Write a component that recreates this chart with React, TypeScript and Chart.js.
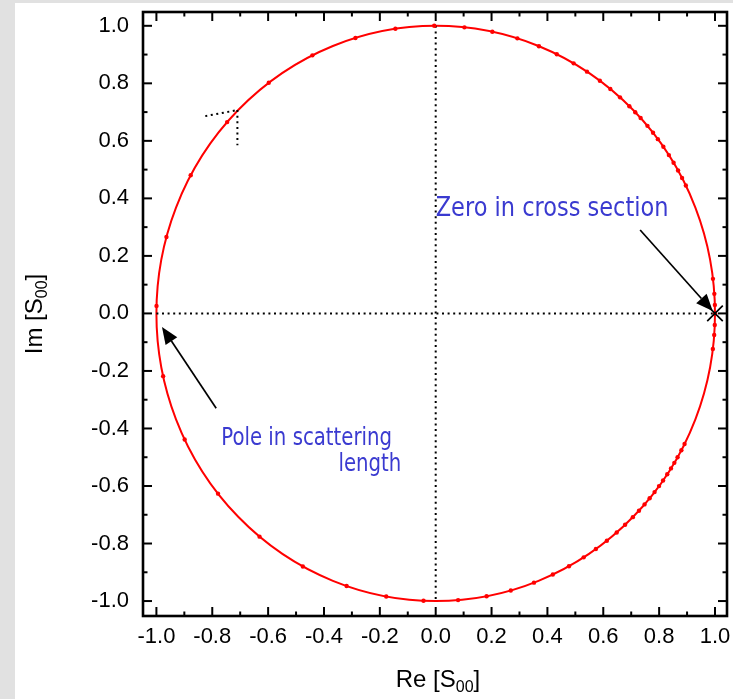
import React, { useEffect, useRef } from "react";
import { Chart, registerables } from "chart.js";

Chart.register(...registerables);

// Phase of S00 = exp(i*phi) at each marked point (degrees)
const phaseDeg = [
  0, 1.7, 3.9, 6.9, 26.4, 28.1, 29.8, 31.6, 33.4, 35.4, 37.3, 38.9, 40.7, 42.8,
  44.4, 46.1, 48.7, 51.3, 54.0, 57.2, 60.4, 64.3, 68.3, 73.0, 78.3, 84.1, 90.3,
  98.3, 106.7, 116.2, 126.7, 138.3, 151.3, 164.6, 178.5, 192.6, 206.0, 218.8,
  230.9, 241.6, 251.4, 259.8, 267.5, 274.6, 280.5, 285.6, 290.6, 294.8, 298.5,
  302.0, 305.0, 307.8, 310.4, 312.7, 314.9, 316.7, 318.4, 320.0, 321.6, 323.1,
  324.5, 326.0, 327.4, 328.7, 330.0, 331.6, 333.0, 352.9, 355.7, 357.7, 360,
];

// Unitarity circle |S00| = 1 (the red curve)
const unitarityRadius = 1.0;

// Zero in cross section marker
const zeroPointRe = [1.0];
const zeroPointIm = [0.0];

// Dotted reference lines
const hAxisRe = [-1.0, 1.0];
const hAxisIm = [0.0, 0.0];
const vAxisRe = [0.0, 0.0];
const vAxisIm = [1.0, -1.0];
const markHRe = [-0.825, -0.71];
const markHIm = [0.686, 0.707];
const markVRe = [-0.71, -0.71];
const markVIm = [0.707, 0.585];

// Tick values
const xMajorTicks = [-1.0, -0.8, -0.6, -0.4, -0.2, 0.0, 0.2, 0.4, 0.6, 0.8, 1.0];
const yMajorTicks = [-1.0, -0.8, -0.6, -0.4, -0.2, 0.0, 0.2, 0.4, 0.6, 0.8, 1.0];
const minorTicks = [-0.9, -0.7, -0.5, -0.3, -0.1, 0.1, 0.3, 0.5, 0.7, 0.9];

// Labels
const xTitle = { main: "Re [S", sub: "00", tail: "]" };
const yTitle = { main: "Im [S", sub: "00", tail: "]" };
const zeroLabel = "Zero in cross section";
const poleLabel1 = "Pole in scattering";
const poleLabel2 = "length";

const circlePoints = phaseDeg.map((d) => ({
  x: Math.cos((d * Math.PI) / 180),
  y: Math.sin((d * Math.PI) / 180),
}));
const pairs = (xs: number[], ys: number[]) => xs.map((x, i) => ({ x, y: ys[i] }));

const CANVAS_W = 718;
const CANVAS_H = 696;
const AREA = { left: 128, top: 9, right: 712, bottom: 613 };

const TICK_FONT = "'Liberation Sans', Arial, sans-serif";
const NOTE_FONT = "'DejaVu Sans', sans-serif";
const NOTE_COLOR = "#3a3ad0";
const NOTE_STRETCH = 1.22;

function fitSize(ctx: CanvasRenderingContext2D, text: string, family: string, width: number) {
  ctx.font = `100px ${family}`;
  const w = ctx.measureText(text).width;
  return (100 * width) / w;
}

function noteText(ctx: CanvasRenderingContext2D, text: string, x: number, y: number) {
  ctx.save();
  ctx.translate(x, y);
  ctx.scale(1, NOTE_STRETCH);
  ctx.fillText(text, 0, 0);
  ctx.restore();
}

function drawArrow(ctx: CanvasRenderingContext2D, x0: number, y0: number, x1: number, y1: number) {
  const ang = Math.atan2(y1 - y0, x1 - x0);
  const L = 17;
  const W = 7;
  const bx = x1 - L * Math.cos(ang);
  const by = y1 - L * Math.sin(ang);
  ctx.beginPath();
  ctx.moveTo(x0, y0);
  ctx.lineTo(bx, by);
  ctx.lineWidth = 1.7;
  ctx.strokeStyle = "#000";
  ctx.stroke();
  ctx.beginPath();
  ctx.moveTo(x1, y1);
  ctx.lineTo(bx + W * Math.sin(ang), by - W * Math.cos(ang));
  ctx.lineTo(bx - W * Math.sin(ang), by + W * Math.cos(ang));
  ctx.closePath();
  ctx.fillStyle = "#000";
  ctx.fill();
}

function drawSubText(
  ctx: CanvasRenderingContext2D,
  t: { main: string; sub: string; tail: string },
  cx: number,
  baseY: number
) {
  const big = `24px ${TICK_FONT}`;
  const small = `16px ${TICK_FONT}`;
  ctx.font = big;
  const w1 = ctx.measureText(t.main).width;
  const w3 = ctx.measureText(t.tail).width;
  ctx.font = small;
  const w2 = ctx.measureText(t.sub).width;
  let x = cx - (w1 + w2 + w3) / 2;
  ctx.textBaseline = "alphabetic";
  ctx.textAlign = "left";
  ctx.fillStyle = "#000";
  ctx.font = big;
  ctx.fillText(t.main, x, baseY);
  x += w1;
  ctx.font = small;
  ctx.fillText(t.sub, x, baseY + 5);
  x += w2;
  ctx.font = big;
  ctx.fillText(t.tail, x, baseY);
}

// pin the plot area to the same place as in the reference
const fixLayoutPlugin = {
  id: "fixLayout",
  afterLayout(chart: any) {
    const xs = chart.scales.x;
    const ys = chart.scales.y;
    xs.left = AREA.left;
    xs.right = AREA.right;
    xs.width = AREA.right - AREA.left;
    xs.top = AREA.bottom;
    xs.bottom = CANVAS_H;
    xs.height = CANVAS_H - AREA.bottom;
    ys.left = 0;
    ys.right = AREA.left;
    ys.width = AREA.left;
    ys.top = AREA.top;
    ys.bottom = AREA.bottom;
    ys.height = AREA.bottom - AREA.top;
    xs.configure();
    ys.configure();
    xs._labelItems = null;
    ys._labelItems = null;
    chart.chartArea = {
      left: AREA.left,
      top: AREA.top,
      right: AREA.right,
      bottom: AREA.bottom,
      width: AREA.right - AREA.left,
      height: AREA.bottom - AREA.top,
    };
  },
};

const circlePlugin = {
  id: "unitarity",
  beforeDatasetsDraw(chart: any) {
    const { ctx, scales } = chart;
    const xs = scales.x;
    const ys = scales.y;
    const cx = xs.getPixelForValue(0);
    const cy = ys.getPixelForValue(0);
    const rx = xs.getPixelForValue(unitarityRadius) - cx;
    const ry = cy - ys.getPixelForValue(unitarityRadius);
    ctx.save();
    ctx.beginPath();
    ctx.ellipse(cx, cy, rx, ry, 0, 0, Math.PI * 2);
    ctx.strokeStyle = "#ff0000";
    ctx.lineWidth = 2;
    ctx.stroke();
    ctx.restore();
  },
};

const decorPlugin = {
  id: "decor",
  afterDatasetsDraw(chart: any) {
    const { ctx, chartArea: a, scales } = chart;
    const xs = scales.x;
    const ys = scales.y;
    ctx.save();

    // annotations
    const zs = fitSize(ctx, zeroLabel, NOTE_FONT, 233);
    ctx.font = `${zs}px ${NOTE_FONT}`;
    ctx.fillStyle = NOTE_COLOR;
    ctx.textAlign = "left";
    ctx.textBaseline = "alphabetic";
    noteText(ctx, zeroLabel, xs.getPixelForValue(0.0), ys.getPixelForValue(0.338));

    const ps = fitSize(ctx, poleLabel1, NOTE_FONT, 171);
    ctx.font = `${ps}px ${NOTE_FONT}`;
    ctx.fillStyle = NOTE_COLOR;
    ctx.textAlign = "left";
    noteText(ctx, poleLabel1, xs.getPixelForValue(-0.768), ys.getPixelForValue(-0.458));
    ctx.textAlign = "right";
    noteText(ctx, poleLabel2, xs.getPixelForValue(-0.123), ys.getPixelForValue(-0.547));

    drawArrow(
      ctx,
      xs.getPixelForValue(0.732),
      ys.getPixelForValue(0.29),
      xs.getPixelForValue(0.992),
      ys.getPixelForValue(0.008)
    );
    drawArrow(
      ctx,
      xs.getPixelForValue(-0.786),
      ys.getPixelForValue(-0.33),
      xs.getPixelForValue(-0.98),
      ys.getPixelForValue(-0.047)
    );

    // ticks (inward, on all four sides)
    ctx.strokeStyle = "#000";
    ctx.lineWidth = 2;
    const seg = (x0: number, y0: number, x1: number, y1: number) => {
      ctx.beginPath();
      ctx.moveTo(x0, y0);
      ctx.lineTo(x1, y1);
      ctx.stroke();
    };
    const MAJ = 9;
    const MIN = 4.5;
    xMajorTicks.forEach((v) => {
      const p = xs.getPixelForValue(v);
      seg(p, a.bottom, p, a.bottom - MAJ);
      seg(p, a.top, p, a.top + MAJ);
    });
    minorTicks.forEach((v) => {
      const p = xs.getPixelForValue(v);
      seg(p, a.bottom, p, a.bottom - MIN);
      seg(p, a.top, p, a.top + MIN);
    });
    yMajorTicks.forEach((v) => {
      const p = ys.getPixelForValue(v);
      seg(a.left, p, a.left + MAJ, p);
      seg(a.right, p, a.right - MAJ, p);
    });
    minorTicks.forEach((v) => {
      const p = ys.getPixelForValue(v);
      seg(a.left, p, a.left + MIN, p);
      seg(a.right, p, a.right - MIN, p);
    });

    // frame
    ctx.lineWidth = 2.6;
    ctx.strokeRect(a.left, a.top, a.right - a.left, a.bottom - a.top);

    // axis titles
    drawSubText(ctx, xTitle, (a.left + a.right) / 2 + 3, 684);
    ctx.save();
    ctx.translate(27, (a.top + a.bottom) / 2);
    ctx.rotate(-Math.PI / 2);
    drawSubText(ctx, yTitle, 0, 0);
    ctx.restore();

    ctx.restore();
  },
};

export default function App() {
  const ref = useRef<HTMLCanvasElement>(null);

  useEffect(() => {
    if (!ref.current) return;
    const dotted = {
      showLine: true,
      borderColor: "#000",
      borderWidth: 2,
      borderDash: [2, 3.6],
      pointRadius: 0,
      fill: false,
      tension: 0,
    };
    const chart = new Chart(ref.current, {
      type: "scatter",
      data: {
        datasets: [
          {
            data: pairs(zeroPointRe, zeroPointIm),
            pointStyle: "crossRot",
            pointRadius: 11,
            borderColor: "#000",
            borderWidth: 1.7,
            showLine: false,
          } as any,
          {
            data: circlePoints,
            showLine: false,
            borderColor: "#ff0000",
            backgroundColor: "#ff0000",
            pointRadius: 2.2,
            pointBorderWidth: 0,
          },
          { data: pairs(hAxisRe, hAxisIm), ...dotted },
          { data: pairs(vAxisRe, vAxisIm), ...dotted },
          { data: pairs(markHRe, markHIm), ...dotted },
          { data: pairs(markVRe, markVIm), ...dotted },
        ],
      },
      options: {
        animation: false,
        responsive: false,
        maintainAspectRatio: false,
        layout: { padding: { top: 9, right: 6, left: 0, bottom: 0 } },
        plugins: { legend: { display: false }, tooltip: { enabled: false } },
        scales: {
          x: {
            type: "linear",
            min: -1.048,
            max: 1.043,
            grid: { display: false, drawTicks: false },
            border: { display: false },
            afterBuildTicks: (s: any) => {
              s.ticks = xMajorTicks.map((v) => ({ value: v }));
            },
            ticks: {
              padding: 8,
              autoSkip: false,
              maxRotation: 0,
              color: "#000",
              font: { family: TICK_FONT, size: 22 },
              callback: (v: any) => Number(v).toFixed(1),
            },
          },
          y: {
            type: "linear",
            min: -1.052,
            max: 1.048,
            grid: { display: false, drawTicks: false },
            border: { display: false },
            afterBuildTicks: (s: any) => {
              s.ticks = yMajorTicks.map((v) => ({ value: v }));
            },
            ticks: {
              padding: 14,
              autoSkip: false,
              color: "#000",
              font: { family: TICK_FONT, size: 22 },
              callback: (v: any) => Number(v).toFixed(1),
            },
          },
        },
      },
      plugins: [fixLayoutPlugin, circlePlugin, decorPlugin],
    });
    return () => chart.destroy();
  }, []);

  return (
    <div
      style={{
        position: "fixed",
        left: 0,
        top: 0,
        width: 733,
        height: 699,
        background: "#e1e1e1",
      }}
    >
      <div
        style={{
          position: "absolute",
          left: 15,
          top: 3,
          width: CANVAS_W,
          height: CANVAS_H,
          background: "#ffffff",
        }}
      >
        <canvas ref={ref} width={CANVAS_W} height={CANVAS_H} style={{ display: "block" }} />
      </div>
    </div>
  );
}
